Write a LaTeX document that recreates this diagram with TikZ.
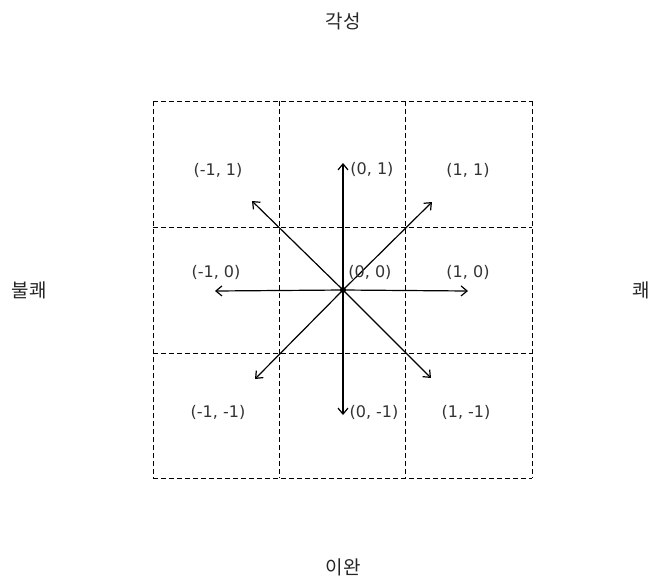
\documentclass[tikz,border=0pt]{standalone}
\usepackage{fontspec}
\setmainfont{Noto Sans CJK KR}
\newfontfamily\coordfont{DejaVu Sans}
\usetikzlibrary{arrows.meta}
\begin{document}
\begin{tikzpicture}[x=1pt,y=-1pt,
  grid/.style={draw=black, line width=0.9pt, dash pattern=on 5pt off 3pt},
  vec/.style={draw=black, line width=1.2pt, -{Straight Barb[length=6pt,width=10pt]}},
  coordlbl/.style={text=black!80, font=\coordfont\fontsize{16}{18}\selectfont, inner sep=0pt},
  axislbl/.style={text=black!85, font=\fontsize{19}{21}\selectfont, inner sep=0pt}]
\useasboundingbox (0,0) rectangle (650,584);
% grid
\foreach \x in {153,279,405,532} \draw[grid] (\x,101) -- (\x,478);
\foreach \y in {101,227,353,478} \draw[grid] (153,\y) -- (532,\y);
% center
\node[circle, fill=black, inner sep=0pt, minimum size=6pt] (c) at (343,290) {};
\coordinate (pN) at (343,163);
\coordinate (pS) at (343,415);
\coordinate (pW) at (215,291);
\coordinate (pE) at (468,291);
\coordinate (pNE) at (432,202);
\coordinate (pNW) at (252,201);
\coordinate (pSW) at (255,379);
\coordinate (pSE) at (431,378);
\foreach \p in {pN,pS,pW,pE,pNE,pNW,pSW,pSE} \draw[vec] (c.center) -- (\p);
% labels
\node[coordlbl] (l1) at (218,170) {(-1, 1)};
\node[coordlbl] (l2) at (372,169) {(0, 1)};
\node[coordlbl] (l3) at (468,170) {(1, 1)};
\node[coordlbl] (l4) at (216,272) {(-1, 0)};
\node[coordlbl] (l5) at (370,272) {(0, 0)};
\node[coordlbl] (l6) at (468,272) {(1, 0)};
\node[coordlbl] (l7) at (218,412) {(-1, -1)};
\node[coordlbl] (l8) at (374,412) {(0, -1)};
\node[coordlbl] (l9) at (466,412) {(1, -1)};
\node[axislbl] (top) at (343,21) {각성};
\node[axislbl] (bot) at (343,567) {이완};
\node[axislbl] (lft) at (29,290) {불쾌};
\node[axislbl] (rgt) at (641,290) {쾌};
\end{tikzpicture}
\end{document}
